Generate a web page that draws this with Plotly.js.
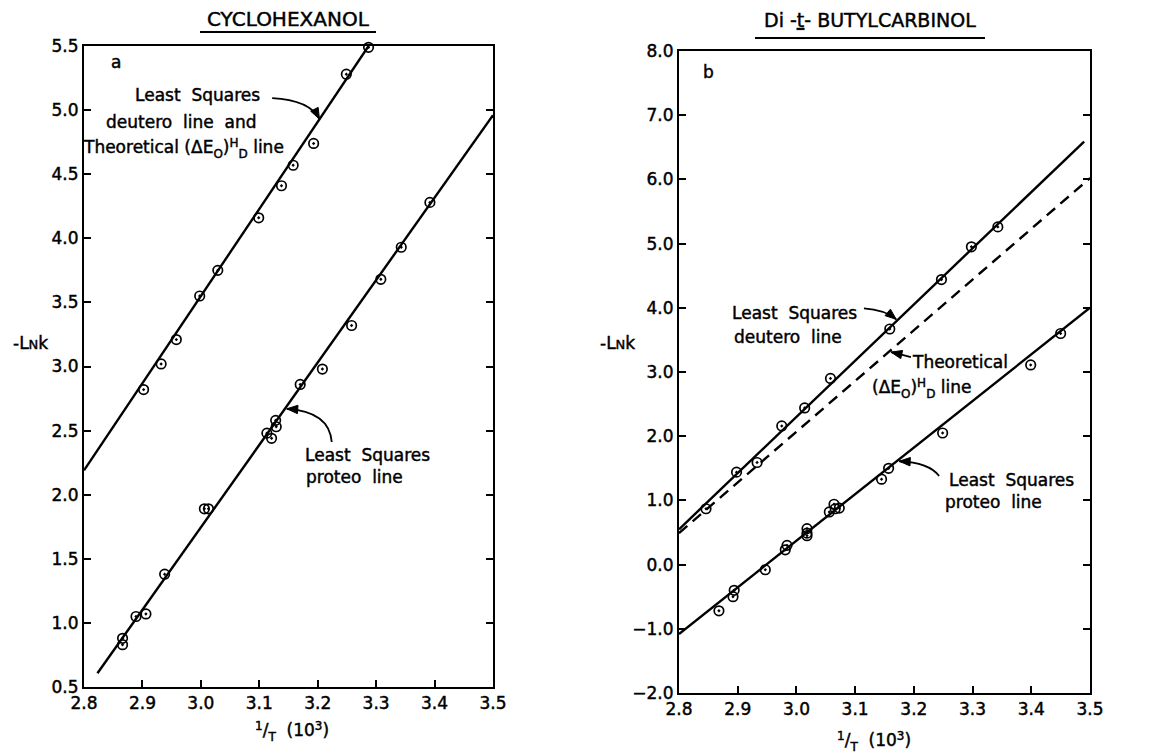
<!DOCTYPE html>
<html><head><meta charset="utf-8">
<script src="https://cdn.plot.ly/plotly-3.0.1.min.js"></script>
<style>html,body{margin:0;padding:0;background:#fff}#chart{width:1161px;height:755px}
#chart svg text{stroke:#000;stroke-width:0.45px}</style>
</head><body><div id="chart"></div>
<script>
// ---- Panel a: Cyclohexanol ----
const cycloDeuteroX = [2.902, 2.932, 2.958, 2.998, 3.029, 3.099, 3.138, 3.158, 3.193, 3.249, 3.287];
const cycloDeuteroY = [2.82, 3.02, 3.21, 3.55, 3.75, 4.16, 4.41, 4.57, 4.74, 5.28, 5.49];
const cycloProteoX = [2.866, 2.866, 2.889, 2.906, 2.938, 3.006, 3.013, 3.113, 3.121, 3.128, 3.129, 3.170, 3.208, 3.258, 3.308, 3.343, 3.392];
const cycloProteoY = [0.83, 0.88, 1.05, 1.07, 1.38, 1.89, 1.89, 2.48, 2.44, 2.58, 2.53, 2.86, 2.98, 3.32, 3.68, 3.93, 4.28];
const cycloDeuteroFitX = [2.8, 3.287];
const cycloDeuteroFitY = [2.19, 5.5];
const cycloProteoFitX = [2.823, 3.5];
const cycloProteoFitY = [0.607, 4.96];

// ---- Panel b: Di-t-butylcarbinol ----
const dtbDeuteroX = [2.846, 2.898, 2.933, 2.975, 3.014, 3.058, 3.159, 3.247, 3.298, 3.343];
const dtbDeuteroY = [0.87, 1.44, 1.59, 2.16, 2.44, 2.90, 3.67, 4.44, 4.95, 5.26];
const dtbProteoX = [2.868, 2.892, 2.894, 2.947, 2.981, 2.984, 3.018, 3.018, 3.018, 3.056, 3.064, 3.066, 3.073, 3.145, 3.157, 3.249, 3.399, 3.45];
const dtbProteoY = [-0.72, -0.50, -0.40, -0.08, 0.23, 0.30, 0.45, 0.49, 0.56, 0.82, 0.94, 0.87, 0.88, 1.33, 1.50, 2.05, 3.11, 3.60];
const dtbDeuteroFitX = [2.8, 3.49];
const dtbDeuteroFitY = [0.55, 6.59];
const dtbTheoryX = [2.8, 3.5];
const dtbTheoryY = [0.49, 6.02];
const dtbProteoFitX = [2.8, 3.5];
const dtbProteoFitY = [-1.08, 4.0];

const xTicks = [2.8, 2.9, 3.0, 3.1, 3.2, 3.3, 3.4, 3.5];
const yTicksA = [0.5, 1.0, 1.5, 2.0, 2.5, 3.0, 3.5, 4.0, 4.5, 5.0, 5.5];
const yTicksB = [-2, -1, 0, 1, 2, 3, 4, 5, 6, 7, 8];

const W = 1161, H = 755;
const FONT = 'DejaVu Sans, Liberation Sans, sans-serif';
const px = v => v / W;
const py = v => 1 - v / H;

// plot-area boxes in pixels (left, right, top, bottom) with their axis ranges
const boxA = {l: 84, r: 493, t: 46, b: 687, x0: 2.8, x1: 3.5, y0: 0.5, y1: 5.5};
const boxB = {l: 679, r: 1090, t: 51, b: 693, x0: 2.8, x1: 3.5, y0: -2, y1: 8};
const toPix = (bx, p) => [bx.l + (p[0] - bx.x0) / (bx.x1 - bx.x0) * (bx.r - bx.l),
                          bx.b - (p[1] - bx.y0) / (bx.y1 - bx.y0) * (bx.b - bx.t)];

const marker = {symbol: 'circle-open-dot', size: 9.5, color: '#000', line: {width: 1.7, color: '#000'}};
function pts(x, y, xa, ya) { return {x, y, xaxis: xa, yaxis: ya, mode: 'markers', type: 'scatter', marker, hoverinfo: 'skip', cliponaxis: false}; }
function line(x, y, xa, ya, dash) { return {x, y, xaxis: xa, yaxis: ya, mode: 'lines', type: 'scatter', line: {color: '#000', width: 2.4, dash: dash || 'solid'}, hoverinfo: 'skip'}; }

const data = [
  line(cycloDeuteroFitX, cycloDeuteroFitY, 'x', 'y'),
  line(cycloProteoFitX, cycloProteoFitY, 'x', 'y'),
  pts(cycloDeuteroX, cycloDeuteroY, 'x', 'y'),
  pts(cycloProteoX, cycloProteoY, 'x', 'y'),
  line(dtbDeuteroFitX, dtbDeuteroFitY, 'x2', 'y2'),
  line(dtbTheoryX, dtbTheoryY, 'x2', 'y2', '11px,7px'),
  line(dtbProteoFitX, dtbProteoFitY, 'x2', 'y2'),
  pts(dtbDeuteroX, dtbDeuteroY, 'x2', 'y2'),
  pts(dtbProteoX, dtbProteoY, 'x2', 'y2')
];

function xAxis(domain, anchor) {
  return {domain, anchor, range: [2.8, 3.5], tickvals: xTicks, tickformat: '.1f',
    ticks: 'inside', ticklen: 7, tickwidth: 1.5, tickcolor: '#000',
    showline: true, linecolor: '#000', linewidth: 2, mirror: true,
    showgrid: false, zeroline: false, fixedrange: true,
    tickfont: {family: FONT, size: 17, color: '#000'}};
}
function yAxis(domain, anchor, range, ticks) {
  return {domain, anchor, range, tickvals: ticks, tickformat: '.1f',
    ticks: 'inside', ticklen: 7, tickwidth: 1.5, tickcolor: '#000',
    showline: true, linecolor: '#000', linewidth: 2, mirror: 'ticks',
    showgrid: false, zeroline: false, fixedrange: true,
    tickfont: {family: FONT, size: 17, color: '#000'}};
}

function txt(text, x, y, opts) {
  return Object.assign({text, xref: 'paper', yref: 'paper', x: px(x), y: py(y), showarrow: false,
    xanchor: 'center', yanchor: 'middle', font: {family: FONT, size: 17, color: '#000'}}, opts || {});
}
// raised / lowered small text without <sup>/<sub>
const up = s => `<span style="font-size:12px;baseline-shift:6px">${s}</span>`;
const dn = s => `<span style="font-size:12px;baseline-shift:-5px">${s}</span>`;

function curve(xr, yr, tail, ctrl, tip) {
  return {type: 'path', xref: xr, yref: yr,
    path: `M ${tail[0]},${tail[1]} Q ${ctrl[0]},${ctrl[1]} ${tip[0]},${tip[1]}`,
    line: {color: '#000', width: 1.8}};
}
// filled arrowhead in paper coords, oriented along control->tip
function head(bx, ctrl, tip) {
  const T = toPix(bx, tip), C = toPix(bx, ctrl);
  let dx = T[0] - C[0], dy = T[1] - C[1];
  const n = Math.hypot(dx, dy); dx /= n; dy /= n;
  const L = 11, hw = 4.2;
  const B = [T[0] - dx * L, T[1] - dy * L];
  const P1 = [B[0] - dy * hw, B[1] + dx * hw], P2 = [B[0] + dy * hw, B[1] - dx * hw];
  const f = p => `${px(p[0])},${py(p[1])}`;
  return {type: 'path', xref: 'paper', yref: 'paper', path: `M ${f(T)} L ${f(P1)} L ${f(P2)} Z`,
    fillcolor: '#000', line: {color: '#000', width: 1}};
}

const arrows = [
  {xr: 'x', yr: 'y', bx: boxA, tail: [3.122, 5.094], ctrl: [3.186, 5.08], tip: [3.203, 4.93]},
  {xr: 'x', yr: 'y', bx: boxA, tail: [3.224, 2.411], ctrl: [3.22, 2.65], tip: [3.147, 2.67]},
  {xr: 'x2', yr: 'y2', bx: boxB, tail: [3.115, 3.99], ctrl: [3.15, 3.97], tip: [3.17, 3.82]},
  {xr: 'x2', yr: 'y2', bx: boxB, tail: [3.195, 3.23], ctrl: [3.18, 3.27], tip: [3.161, 3.31]},
  {xr: 'x2', yr: 'y2', bx: boxB, tail: [3.243, 1.38], ctrl: [3.226, 1.59], tip: [3.175, 1.61]}
];

const shapes = [];
arrows.forEach(a => { shapes.push(curve(a.xr, a.yr, a.tail, a.ctrl, a.tip)); shapes.push(head(a.bx, a.ctrl, a.tip)); });
shapes.push({type: 'line', xref: 'paper', yref: 'paper', x0: px(200), x1: px(376), y0: py(32), y1: py(32), line: {color: '#000', width: 2.2}});
shapes.push({type: 'line', xref: 'paper', yref: 'paper', x0: px(755), x1: px(985), y0: py(38), y1: py(38), line: {color: '#000', width: 2.2}});

const annotations = [
  txt('CYCLOHEXANOL', 288, 19, {font: {family: FONT, size: 20, color: '#000'}}),
  txt('Di -<u>t</u>- BUTYLCARBINOL', 870, 20, {font: {family: FONT, size: 19, color: '#000'}}),
  txt('a', 116, 62),
  txt('b', 708, 72),
  txt('-L<span style="font-size:13px">N</span>k', 30, 343),
  txt('-L<span style="font-size:13px">N</span>k', 617, 343),
  txt(`${up('1')}/${dn('T')}  (10${up('3')})`, 292, 731),
  txt(`${up('1')}/${dn('T')}  (10${up('3')})`, 874, 741),
  txt('Least  Squares', 197, 95),
  txt('deutero  line  and', 181, 122),
  txt(`Theoretical (ΔE${dn('O')})${up('H')}${dn('D')} line`, 183, 148),
  txt('Least  Squares', 303, 455, {xanchor: 'left'}),
  txt('proteo  line', 304, 477, {xanchor: 'left'}),
  txt('Least  Squares', 794, 313),
  txt('deutero  line', 788, 337),
  txt('Theoretical', 910, 362, {xanchor: 'left'}),
  txt(`(ΔE${dn('O')})${up('H')}${dn('D')} line`, 870, 388, {xanchor: 'left'}),
  txt('Least  Squares', 947, 480, {xanchor: 'left'}),
  txt('proteo  line', 943, 502, {xanchor: 'left'})
];

const layout = {
  width: W, height: H,
  margin: {l: 0, r: 0, t: 0, b: 0, pad: 0},
  paper_bgcolor: '#fff', plot_bgcolor: '#fff',
  showlegend: false,
  font: {family: FONT, color: '#000', size: 17},
  xaxis: xAxis([boxA.l / W, boxA.r / W], 'y'),
  yaxis: yAxis([1 - boxA.b / H, 1 - boxA.t / H], 'x', [boxA.y0, boxA.y1], yTicksA),
  xaxis2: xAxis([boxB.l / W, boxB.r / W], 'y2'),
  yaxis2: yAxis([1 - boxB.b / H, 1 - boxB.t / H], 'x2', [boxB.y0, boxB.y1], yTicksB),
  shapes, annotations
};

Plotly.newPlot('chart', data, layout, {displayModeBar: false});
</script></body></html>
